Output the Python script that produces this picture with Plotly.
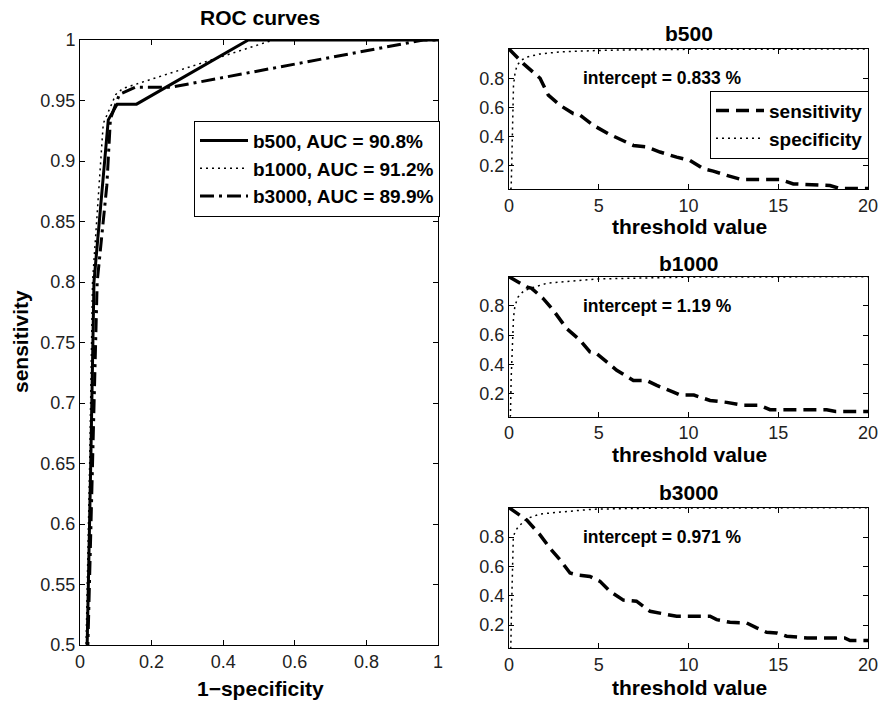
import plotly.graph_objects as go

# ---------------- data ----------------
roc_names = ["b500, AUC = 90.8%", "b1000, AUC = 91.2%", "b3000, AUC = 89.9%"]
roc_fpr_b500 = [0, 0.020, 0.030, 0.039, 0.079, 0.104, 0.158, 0.47, 1.0]
roc_tpr_b500 = [0, 0.50, 0.65, 0.80, 0.934, 0.947, 0.947, 1.0, 1.0]
roc_fpr_b1000 = [0, 0.017, 0.027, 0.035, 0.065, 0.10, 0.12, 0.54, 1.0]
roc_tpr_b1000 = [0, 0.50, 0.65, 0.80, 0.931, 0.955, 0.96, 1.0, 1.0]
roc_fpr_b3000 = [0, 0.022, 0.048, 0.075, 0.085, 0.11, 0.154, 0.256, 0.959, 1.0]
roc_tpr_b3000 = [0, 0.50, 0.80, 0.88, 0.935, 0.955, 0.961, 0.961, 1.0, 1.0]

panel_titles = ["b500", "b1000", "b3000"]
intercepts = ["intercept = 0.833 %", "intercept = 1.19 %", "intercept = 0.971 %"]

sens_x_b500 = [0, 0.8, 1.73, 2.19, 2.84, 3.58, 3.96, 4.70, 5.53, 6.37, 6.93, 7.67, 8.41, 9.34,
               10.08, 10.83, 11.38, 12.13, 12.96, 15.1, 15.84, 17.88, 18.44, 20]
sens_y_b500 = [1.0, 0.90, 0.80, 0.684, 0.615, 0.558, 0.547, 0.478, 0.42, 0.375, 0.34, 0.33, 0.295, 0.26,
               0.238, 0.18, 0.164, 0.135, 0.107, 0.107, 0.077, 0.066, 0.045, 0.045]
spec_x_b500 = [0, 0.12, 0.15, 0.2, 0.25, 0.33, 0.45, 0.7, 1.0, 1.7, 2.8, 5, 8, 20]
spec_y_b500 = [0, 0.05, 0.2, 0.5, 0.75, 0.83, 0.89, 0.925, 0.945, 0.965, 0.98, 0.99, 0.997, 1.0]

sens_x_b1000 = [0, 0.3, 0.98, 1.26, 1.91, 2.47, 3.21, 3.96, 4.51, 4.88, 5.44, 6.0, 6.37, 6.93, 7.67,
                8.23, 9.16, 9.53, 10.3, 11.2, 12.13, 13.05, 13.98, 14.54, 17.7, 18.2, 20]
sens_y_b1000 = [1.0, 0.977, 0.93, 0.92, 0.85, 0.77, 0.645, 0.565, 0.485, 0.474, 0.416, 0.36, 0.332, 0.29, 0.29,
                0.256, 0.21, 0.19, 0.19, 0.153, 0.14, 0.12, 0.12, 0.09, 0.09, 0.078, 0.078]
spec_x_b1000 = [0, 0.08, 0.12, 0.18, 0.25, 0.33, 0.5, 0.8, 1.17, 2.1, 3.4, 5, 10, 20]
spec_y_b1000 = [0, 0.05, 0.3, 0.55, 0.72, 0.8, 0.86, 0.9, 0.92, 0.955, 0.97, 0.985, 0.997, 1.0]

sens_x_b3000 = [0, 0.98, 1.73, 2.28, 2.84, 3.4, 3.77, 4.51, 5.07, 5.63, 6.37, 7.1, 7.86, 8.41, 9.34,
                11.2, 11.57, 12.31, 13.24, 13.8, 14.35, 14.9, 15.47, 16.6, 18.7, 19.0, 20]
sens_y_b3000 = [1.0, 0.917, 0.815, 0.724, 0.645, 0.555, 0.543, 0.532, 0.498, 0.43, 0.37, 0.363, 0.294, 0.283, 0.26,
                0.26, 0.237, 0.219, 0.215, 0.181, 0.151, 0.147, 0.124, 0.113, 0.113, 0.095, 0.095]
spec_x_b3000 = [0, 0.1, 0.14, 0.19, 0.24, 0.35, 0.52, 0.98, 1.73, 2.84, 4.7, 8, 20]
spec_y_b3000 = [0, 0.05, 0.3, 0.6, 0.8, 0.84, 0.87, 0.925, 0.957, 0.97, 0.99, 0.997, 1.0]

roc_xticks = [0, 0.2, 0.4, 0.6, 0.8, 1]
roc_xticklabels = ["0", "0.2", "0.4", "0.6", "0.8", "1"]
roc_yticks = [0.5, 0.55, 0.6, 0.65, 0.7, 0.75, 0.8, 0.85, 0.9, 0.95, 1]
roc_yticklabels = ["0.5", "0.55", "0.6", "0.65", "0.7", "0.75", "0.8", "0.85", "0.9", "0.95", "1"]
thr_xticks = [0, 5, 10, 15, 20]
thr_yticks = [0.2, 0.4, 0.6, 0.8]
thr_yticklabels = ["0.2", "0.4", "0.6", "0.8"]

# ---------------- figure ----------------
FONT = "Liberation Sans, Arial, Helvetica, sans-serif"
W, H = 880, 704
fig = go.Figure()

DOT = "2px,4px"
DASHDOT = "14px,5px,3px,5px"
DASH = "13px,7px"

fig.add_trace(go.Scatter(x=roc_fpr_b500, y=roc_tpr_b500, mode="lines", name="<b>" + roc_names[0] + "</b>",
                         line=dict(color="black", width=3), xaxis="x", yaxis="y", legend="legend"))
fig.add_trace(go.Scatter(x=roc_fpr_b1000, y=roc_tpr_b1000, mode="lines", name="<b>" + roc_names[1] + "</b>",
                         line=dict(color="black", width=1.5, dash=DOT), xaxis="x", yaxis="y", legend="legend"))
fig.add_trace(go.Scatter(x=roc_fpr_b3000, y=roc_tpr_b3000, mode="lines", name="<b>" + roc_names[2] + "</b>",
                         line=dict(color="black", width=3, dash=DASHDOT), xaxis="x", yaxis="y", legend="legend"))

panels = [
    (sens_x_b500, sens_y_b500, spec_x_b500, spec_y_b500),
    (sens_x_b1000, sens_y_b1000, spec_x_b1000, spec_y_b1000),
    (sens_x_b3000, sens_y_b3000, spec_x_b3000, spec_y_b3000),
]
for i, (sx, sy, px, py) in enumerate(panels):
    ax = str(i + 2)
    fig.add_trace(go.Scatter(x=sx, y=sy, mode="lines", name="<b>sensitivity</b>",
                             line=dict(color="black", width=3.5, dash=DASH),
                             xaxis="x" + ax, yaxis="y" + ax, legend="legend2", showlegend=(i == 0)))
    fig.add_trace(go.Scatter(x=px, y=py, mode="lines", name="<b>specificity</b>",
                             line=dict(color="black", width=1.5, dash=DOT),
                             xaxis="x" + ax, yaxis="y" + ax, legend="legend2", showlegend=(i == 0)))

axis_common = dict(showline=True, linecolor="black", linewidth=1, mirror="ticks", ticks="inside",
                   ticklen=5, tickcolor="black", showgrid=False, zeroline=False, automargin=False,
                   tickfont=dict(family=FONT, size=18, color="#222"))

# pixel boxes: (left, right, top, bottom)
left_box = (80, 438, 40, 645)
right_boxes = [(509, 868, 49, 189), (509, 868, 276.7, 416.7), (509, 868, 507.7, 648.3)]


def dom(box):
    l, r, t, b = box
    return [l / W, r / W], [1 - b / H, 1 - t / H]


xd, yd = dom(left_box)
layout = dict(
    template="none",
    width=W, height=H, margin=dict(l=0, r=0, t=0, b=0, autoexpand=False),
    paper_bgcolor="white", plot_bgcolor="white",
    font=dict(family=FONT, color="black"),
    xaxis=dict(domain=xd, range=[0, 1], tickvals=roc_xticks, ticktext=roc_xticklabels, anchor="y", **axis_common),
    yaxis=dict(domain=yd, range=[0.5, 1], tickvals=roc_yticks, ticktext=roc_yticklabels, anchor="x", **axis_common),
)
for i, box in enumerate(right_boxes):
    ax = str(i + 2)
    xd, yd = dom(box)
    layout["xaxis" + ax] = dict(domain=xd, range=[0, 20], tickvals=thr_xticks, anchor="y" + ax, **axis_common)
    layout["yaxis" + ax] = dict(domain=yd, range=[0.042, 1], tickvals=thr_yticks, ticktext=thr_yticklabels,
                                anchor="x" + ax, **axis_common)

annotations = []


def ann(text, x, y, size, **kw):
    d = dict(text="<b>" + text + "</b>", x=x / W, y=1 - y / H, xref="paper", yref="paper",
             showarrow=False, font=dict(family=FONT, size=size, color="black"),
             xanchor="center", yanchor="middle")
    d.update(kw)
    annotations.append(d)


ann("ROC curves", 260, 18, 21)
ann("1\u2212specificity", 260, 688, 21)
ann("sensitivity", 20, 342, 21, textangle=-90)
title_y = [33, 263, 492.5]
label_y = [226, 454, 687]
for i in range(3):
    ann(panel_titles[i], 689, title_y[i], 21)
    ann("threshold value", 689, label_y[i], 21)
    ax = str(i + 2)
    annotations.append(dict(text="<b>" + intercepts[i] + "</b>", x=4.0, y=0.8, xref="x" + ax, yref="y" + ax,
                            showarrow=False, xanchor="left", yanchor="middle",
                            font=dict(family=FONT, size=17.5, color="black")))

layout["annotations"] = annotations
layout["legend"] = dict(x=440 / W, xanchor="right", y=1 - 120.7 / H, yanchor="top",
                        bordercolor="black", borderwidth=1, bgcolor="white", itemwidth=48,
                        font=dict(family=FONT, size=19, color="black"), tracegroupgap=0)
layout["legend2"] = dict(x=869 / W, xanchor="right", y=1 - 90.7 / H, yanchor="top",
                         bordercolor="black", borderwidth=1, bgcolor="white", itemwidth=48,
                         font=dict(family=FONT, size=19, color="black"), tracegroupgap=0)
layout["showlegend"] = True
fig.update_layout(**layout)

fig.write_html("out.html", config={"displayModeBar": False},
               post_script="document.body.style.margin='0px';document.body.style.padding='0px';")
